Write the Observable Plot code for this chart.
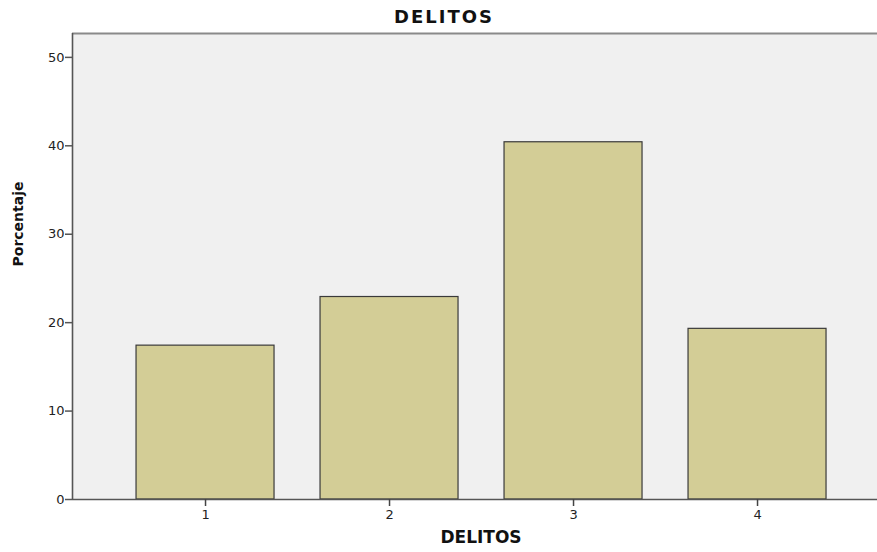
<!DOCTYPE html>
<html>
<head>
<meta charset="utf-8">
<script src="https://cdn.jsdelivr.net/npm/d3@7"></script>
<script src="https://cdn.jsdelivr.net/npm/@observablehq/plot@0.6"></script>
<style>
  body { margin: 0; background: #fff; width: 877px; height: 552px; overflow: hidden; position: relative; font-family: "DejaVu Sans", sans-serif; }
  #title { position: absolute; left: 0; top: 0; width: 877px; height: 32px; padding-left: 11px; box-sizing: border-box; text-align: center; font: bold 18px "DejaVu Sans", sans-serif; letter-spacing: 2px; line-height: 34px; color: #111; }
  #chart { position: absolute; left: 0; top: 32px; }
</style>
</head>
<body>
<div id="title">DELITOS</div>
<div id="chart"></div>
<script>
const categories = [1, 2, 3, 4];
const percentages = [17.4, 22.9, 40.4, 19.3];
const yTicks = [0, 10, 20, 30, 40, 50];
const xDomain = [0.277, 4.652];
const yMax = 52.7;
const barHalfWidth = 0.375;
const titleText = "DELITOS";
const xLabel = "DELITOS";
const yLabel = "Porcentaje";

const data = categories.map((c, i) => ({cat: c, pct: percentages[i]}));

const chart = Plot.plot({
  width: 877,
  height: 520,
  marginLeft: 72,
  marginRight: 0,
  marginTop: 1,
  marginBottom: 53,
  style: {fontFamily: "DejaVu Sans, sans-serif", fontSize: "13px", color: "#222", background: "transparent"},
  x: {domain: xDomain, label: null},
  y: {domain: [0, yMax], label: null},
  marks: [
    Plot.frame({fill: "#f0f0f0", stroke: null}),
    Plot.ruleY([yMax], {stroke: "#8a8a8a", strokeWidth: 2.2}),
    Plot.rectY(data, {x1: d => d.cat - barHalfWidth, x2: d => d.cat + barHalfWidth, y1: 0, y2: "pct", fill: "#d3cd96", stroke: "#3a3a3a", strokeWidth: 1.2}),
    Plot.ruleX([xDomain[0]], {stroke: "#555", strokeWidth: 1.6}),
    Plot.ruleY([0], {stroke: "#555", strokeWidth: 1.6}),
    Plot.axisY({ticks: yTicks, tickSize: 7, tickPadding: 1, stroke: "#555", strokeWidth: 1.5, fontSize: 13, label: null}),
    Plot.axisX({ticks: categories, tickFormat: d => String(d), tickSize: 7, tickPadding: 3, stroke: "#444", strokeWidth: 1.5, fontSize: 13, label: null}),
    Plot.text([yLabel], {frameAnchor: "left", dx: -54, rotate: -90, fontWeight: "bold", fontSize: 14, fill: "#111"}),
    Plot.text([xLabel], {frameAnchor: "bottom", dx: 6, dy: 43, fontWeight: "bold", fontSize: 17, fill: "#111", letterSpacing: 2.5})
  ]
});
document.getElementById("chart").appendChild(chart);
document.getElementById("title").textContent = titleText;
</script>
</body>
</html>
